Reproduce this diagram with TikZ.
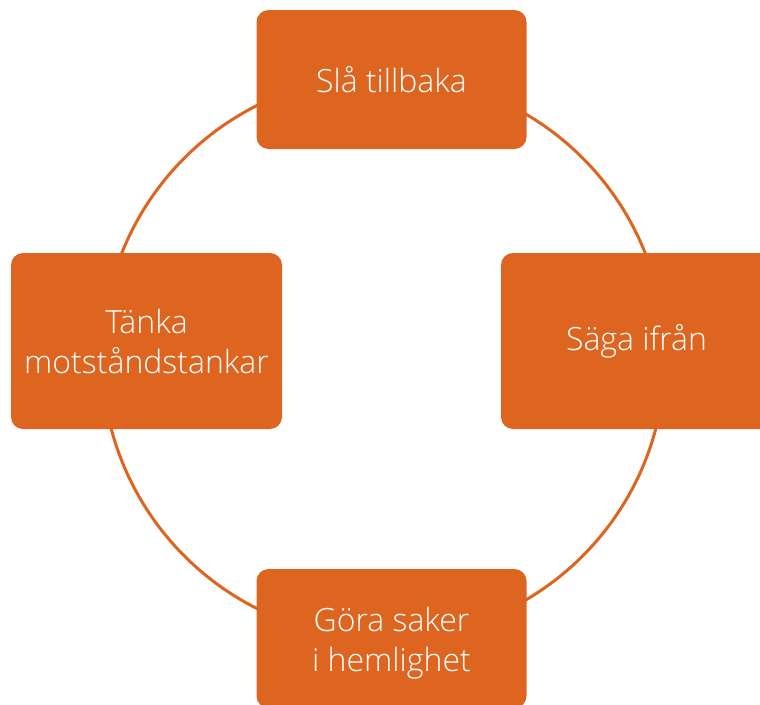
\documentclass[tikz,border=0pt]{standalone}
\usepackage{fontspec}
\setmainfont{Open Sans Light}
\definecolor{accent}{HTML}{DD6520}
\begin{document}
\begin{tikzpicture}[x=1pt,y=-1pt,
  ring/.style={circle,draw=accent,line width=3pt,minimum size=563pt,inner sep=0pt},
  card/.style={rectangle,rounded corners=12pt,fill=accent,text=white,align=center,
    inner sep=0pt,font=\fontsize{32}{40}\selectfont},
  wide/.style={card,minimum width=270pt,minimum height=139pt},
  tall/.style={card,minimum width=271pt,minimum height=176pt},
  caption/.style={text=white,align=center,inner sep=0pt,font=\fontsize{32}{40}\selectfont}]
\useasboundingbox (0,0) rectangle (760,704);
\node[ring] (ring) at (383.5,357) {};
\node[wide] (top) at (391.5,79.5) {Slå tillbaka};
\node[tall] (left) at (146.5,341) {Tänka\\motståndstankar};
\node[tall] (right) at (636.5,341) {Säga ifrån};
\node[wide] (bottom) at (391.5,638.5) {};
\node[caption] (bottomtext) at ([yshift=-5pt]bottom.center) {Göra saker\\i hemlighet};
\end{tikzpicture}
\end{document}
